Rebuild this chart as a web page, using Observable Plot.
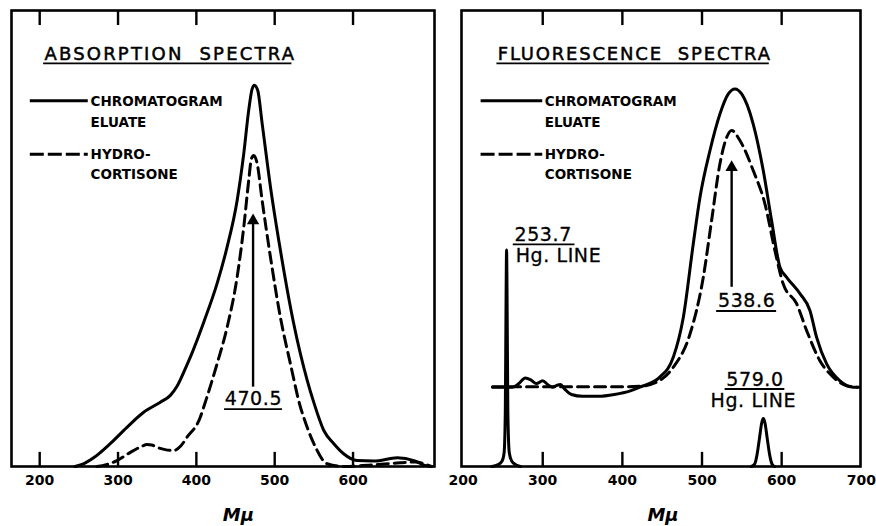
<!DOCTYPE html>
<html>
<head>
<meta charset="utf-8">
<script src="https://cdn.jsdelivr.net/npm/d3@7"></script>
<script src="https://cdn.jsdelivr.net/npm/@observablehq/plot@0.6"></script>
<style>
  html, body { margin: 0; padding: 0; background: #fff; }
  #wrap { position: relative; width: 876px; height: 526px; overflow: hidden; }
  #left, #right { position: absolute; top: 0; }
  #left { left: 0; }
  #right { left: 440px; }
  svg { overflow: visible; }
</style>
</head>
<body>
<div id="wrap"><div id="left"></div><div id="right"></div></div>
<script>
// ---------- Absorption spectra (left panel) ----------
const absTicks = [200, 300, 400, 500, 600];
const absEluateX = [245, 255, 268.8, 290, 311.4, 332.7, 354, 366.8, 375.3, 388, 392.3, 409.3, 426.4, 439.2, 452, 460.5, 466.8, 471.2, 474, 478.3, 484, 494.6, 507.3, 524.3, 541.5, 550, 562.7, 575.5, 588, 605, 626.6, 656.5, 677.7, 690.5, 700];
const absEluateY = [0, 0.5, 1.9, 5.0, 8.6, 11.9, 14.1, 15.6, 17.6, 22.3, 24.0, 31.6, 40.1, 48.1, 58.3, 68.6, 78.1, 82.8, 83.6, 82.5, 75.2, 61.3, 47.4, 31.3, 18.9, 14.0, 7.9, 5.0, 2.8, 1.3, 1.2, 1.9, 1.3, 0.3, 0];
const absHydroX = [273, 285, 298.7, 315.7, 330, 337, 343, 349.8, 360, 371, 380, 388, 405, 409.3, 426.4, 439.2, 452, 460.5, 466.8, 470.3, 473.2, 477.5, 484, 494.6, 507.3, 520.1, 532.9, 537, 550, 567, 588, 620, 660, 680, 692, 700];
const absHydroY = [0, 0.4, 1.3, 3.1, 4.4, 4.8, 4.7, 4.2, 3.7, 3.5, 4.5, 6.4, 10.8, 13.0, 22.5, 30.5, 41.5, 52.5, 62.7, 67.5, 68.2, 66.5, 58.3, 45.9, 32.7, 22.5, 13.0, 10.8, 5.0, 0.6, 0, 0.3, 0.8, 1.0, 0.5, 0];
const absPeak = 470.5;

// ---------- Fluorescence spectra (right panel) ----------
const fluTicks = [200, 300, 400, 500, 600, 700];
const fluInnerTicks = [300, 400, 500, 600];
const fluEluateX = [237, 262, 270, 278, 285, 292, 300, 306, 312, 318, 322, 328, 336, 350, 370, 390, 410, 422, 447, 464, 476.5, 489, 497.4, 510, 522.5, 533, 541.4, 549.8, 564.3, 576.9, 587.4, 597.9, 606.3, 623, 635.5, 643.9, 656.5, 673.2, 689.9, 698];
const fluEluateY = [17.4, 17.4, 18.2, 19.4, 19.0, 18.2, 18.8, 18.0, 17.4, 17.8, 18.0, 16.9, 15.8, 15.4, 15.4, 15.8, 16.6, 17.4, 19.6, 24.0, 32.7, 48.8, 59.0, 69.3, 77.3, 81.7, 82.8, 81.7, 75.1, 64.9, 53.9, 43.7, 41.5, 37.9, 34.2, 28.3, 22.5, 18.8, 17.4, 17.4];
const fluHydroX = [237, 300, 350, 400, 422, 443, 464, 485, 501.6, 512, 522.5, 531, 537.2, 547.6, 564.3, 579, 591.6, 602, 618.8, 631.4, 648, 664.8, 681.6, 695];
const fluHydroY = [17.5, 17.5, 17.5, 17.5, 17.6, 18.5, 21.8, 29.1, 41.5, 53.9, 66.4, 72.2, 73.7, 71.5, 64.9, 57.6, 47.3, 40.0, 35.7, 29.8, 23.2, 19.6, 17.7, 17.4];
const hg254X = [236, 244, 249, 251.5, 253, 254, 254.6, 255.2, 256.2, 258, 261, 266, 272];
const hg254Y = [0, 0.4, 1.2, 3, 12, 38, 47.5, 38, 12, 3, 1.2, 0.4, 0];
const hg579X = [562, 566, 569, 572, 575, 577, 579, 582, 585, 588, 591];
const hg579Y = [0, 0.5, 2.5, 6.0, 9.6, 10.5, 9.6, 6.0, 2.5, 0.5, 0];
const fluPeak = 538.6;

const legendLabels = ["CHROMATOGRAM", "ELUATE", "HYDRO-", "CORTISONE"];
const titleLabels = ["ABSORPTION\u00A0\u00A0SPECTRA", "FLUORESCENCE\u00A0\u00A0SPECTRA"];

const zip = (xs, ys) => xs.map((x, i) => ({x, y: ys[i]}));
const FONT = "DejaVu Sans, Verdana, sans-serif";
const SW = 3;
const DASH = "11,6";

function panel(opts) {
  const {width, marginLeft, marginRight, domain, bottomTicks, topTicks, labelTicks, eluate, hydro, extra, title, legend, arrow, peakLabel, muX} = opts;
  const marks = [
    Plot.frame({stroke: "black", strokeWidth: 2.6}),
    Plot.ruleX(bottomTicks, {x: d => d, y1: 0, y2: 3.1, stroke: "black", strokeWidth: 2.4}),
    Plot.ruleX(topTicks, {x: d => d, y1: 96.7, y2: 100, stroke: "black", strokeWidth: 2.4}),
    Plot.axisX({ticks: labelTicks, tickSize: 0, tickPadding: 9, fontSize: 14, fontWeight: "bold", label: null, tickFormat: d => String(d)}),
    Plot.text(["Mμ"], {x: muX, y: -10.7, text: d => d, fontSize: 18, fontWeight: "bold", fontStyle: "italic", fill: "black"}),
    // title
    Plot.text([title.text], {x: title.x, y: 90.5, text: d => d, textAnchor: "start", fontSize: 18, fill: "black", stroke: "black", strokeWidth: 0.5}),
    Plot.ruleY([88.4], {x1: title.x - 1, x2: title.x2, stroke: "black", strokeWidth: 1.8}),
    // legend
    Plot.ruleY([80.2], {x1: legend.x1, x2: legend.x2, stroke: "black", strokeWidth: SW}),
    Plot.ruleY([68.5], {x1: legend.x1, x2: legend.x2, stroke: "black", strokeWidth: SW, strokeDasharray: "14,4"}),
    Plot.text(legendLabels, {x: legend.tx, y: (d, i) => [80.1, 75.4, 68.3, 63.9][i], text: d => d, textAnchor: "start", fontSize: 13.5, fontWeight: "bold", fill: "black"}),
    // spectra
    ...extra,
    Plot.line(eluate, {x: "x", y: "y", stroke: "black", strokeWidth: SW, curve: "monotone-x"}),
    Plot.line(hydro, {x: "x", y: "y", stroke: "black", strokeWidth: SW, curve: "monotone-x", strokeDasharray: DASH}),
    // peak arrow
    Plot.ruleX([arrow.x], {y1: arrow.y1, y2: arrow.y2 - 1, stroke: "black", strokeWidth: 2.4}),
    Plot.dot([arrow], {x: "x", y: d => d.y2 - 1.5, symbol: "triangle", r: 4.6, fill: "black", stroke: "none"}),
    // peak label
    Plot.text([String(peakLabel.value)], {x: peakLabel.x, y: peakLabel.y, text: d => d, fontSize: 19, fill: "black", stroke: "black", strokeWidth: 0.3}),
    Plot.ruleY([peakLabel.y - 2.3], {x1: peakLabel.u1, x2: peakLabel.u2, stroke: "black", strokeWidth: 1.8})
  ];
  return Plot.plot({
    width, height: 526,
    marginLeft, marginRight, marginTop: 10, marginBottom: 60,
    x: {domain},
    y: {domain: [0, 100], axis: null},
    style: {fontFamily: FONT, color: "black", background: "white", overflow: "visible"},
    marks
  });
}

const left = panel({
  width: 440, marginLeft: 11, marginRight: 6, domain: [164, 704],
  bottomTicks: absTicks, topTicks: absTicks, labelTicks: absTicks,
  eluate: zip(absEluateX, absEluateY), hydro: zip(absHydroX, absHydroY), extra: [],
  title: {text: titleLabels[0], x: 206, x2: 522},
  legend: {x1: 188, x2: 262, tx: 265},
  arrow: {x: 472.4, y1: 17.4, y2: 55.4},
  peakLabel: {value: absPeak.toFixed(1), x: 472.8, y: 14.9, u1: 436, u2: 510},
  muX: 453.7
});

const hgLabel = (value, x, y, anchor, u1, u2) => [
  Plot.text([value], {x, y, text: d => d, fontSize: 19, textAnchor: anchor, fill: "black", stroke: "black", strokeWidth: 0.3}),
  Plot.ruleY([y - 2.0], {x1: u1, x2: u2, stroke: "black", strokeWidth: 1.8}),
  Plot.text(["Hg. LINE"], {x: anchor === "start" ? x + 1.5 : x - 2, y: y - 4.6, text: d => d, fontSize: 19, textAnchor: anchor, fill: "black", stroke: "black", strokeWidth: 0.3})
];

const right = panel({
  width: 436, marginLeft: 21, marginRight: 16, domain: [198, 699],
  bottomTicks: fluInnerTicks, topTicks: fluInnerTicks, labelTicks: fluTicks,
  eluate: zip(fluEluateX, fluEluateY), hydro: zip(fluHydroX, fluHydroY),
  extra: [
    Plot.line(zip(hg254X, hg254Y), {x: "x", y: "y", stroke: "black", strokeWidth: SW, curve: "monotone-x"}),
    Plot.line(zip(hg579X, hg579Y), {x: "x", y: "y", stroke: "black", strokeWidth: SW, curve: "monotone-x"}),
    ...hgLabel("253.7", 264.5, 50.7, "start", 263, 340.5),
    ...hgLabel("579.0", 566.5, 19.0, "middle", 529, 604)
  ],
  title: {text: titleLabels[1], x: 243.5, x2: 584.5},
  legend: {x1: 222.6, x2: 300, tx: 302.5},
  arrow: {x: 537.2, y1: 39.3, y2: 67.1},
  peakLabel: {value: fluPeak.toFixed(1), x: 556.1, y: 36.4, u1: 518.4, u2: 593.7},
  muX: 451
});

document.getElementById("left").appendChild(left);
document.getElementById("right").appendChild(right);

// letter spacing for the hand-lettered titles and numbers
const spaced = new Map([[titleLabels[0], 2.2], [titleLabels[1], 1.8], ["470.5", 0.6], ["538.6", 0.6], ["253.7", 0.6], ["579.0", 0.6], ["Hg. LINE", 0.6]]);
for (const svg of [left, right]) {
  d3.select(svg).selectAll("text").each(function() {
    const t = this.textContent;
    if (spaced.has(t)) this.setAttribute("letter-spacing", spaced.get(t));
  });
}
</script>
</body>
</html>
